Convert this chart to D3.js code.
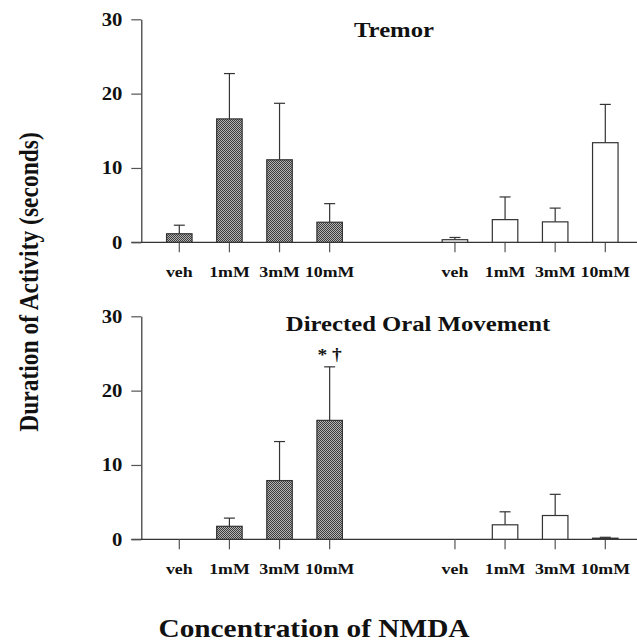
<!DOCTYPE html>
<html>
<head>
<meta charset="utf-8">
<script src="https://cdn.jsdelivr.net/npm/d3@7"></script>
<style>
  body { margin: 0; background: white; }
  svg { display: block; }
  text { font-family: "Liberation Serif", "Times New Roman", serif; font-weight: bold; fill: #111; }
</style>
</head>
<body>
<div id="wrapper"></div>
<script>
// doses, same for both groups
var categories = ["veh", "1mM", "3mM", "10mM"];
var yTicks = [0, 10, 20, 30];

// Tremor (mean, upper error)
var tremorLeft      = [1.15, 16.6, 11.1, 2.7];
var tremorLeftErr   = [1.15, 6.1, 7.6, 2.5];
var tremorRight     = [0.35, 3.05, 2.75, 13.4];
var tremorRightErr  = [0.3, 3.05, 1.85, 5.15];

// Directed Oral Movement
var oralLeft        = [0, 1.75, 7.9, 16.0];
var oralLeftErr     = [0, 1.1, 5.25, 7.2];
var oralRight       = [0, 1.95, 3.2, 0.15];
var oralRightErr    = [0, 1.75, 2.85, 0.12];

var panelTitles = ["Tremor", "Directed Oral Movement"];
var yTitle = "Duration of Activity (seconds)";
var xTitle = "Concentration of NMDA";

const width = 637, height = 642;
const S = 1.15;   // the scanned figure is a little wider than tall

const svg = d3.select("#wrapper")
    .append("svg")
    .attr("width", width)
    .attr("height", height);

// halftone fill for the dark bars
var pat = svg.append("defs").append("pattern")
    .attr("id", "stipple")
    .attr("patternUnits", "userSpaceOnUse")
    .attr("width", 2).attr("height", 2);
pat.append("rect").attr("width", 2).attr("height", 2).attr("fill", "#b4b4b4");
pat.append("rect").attr("width", 1).attr("height", 1).attr("fill", "#3c3c3c");
pat.append("rect").attr("x", 1).attr("y", 1).attr("width", 1).attr("height", 1).attr("fill", "#3c3c3c");

// widen text horizontally around its anchor point
function stretch(sel){
    sel.attr("transform", function(){
        var tx = +this.getAttribute("x") || 0, ty = +this.getAttribute("y") || 0;
        return "translate(" + tx + "," + ty + ") scale(" + S + ",1) translate(" + (-tx) + "," + (-ty) + ")";
    });
}

// slot index of each bar: left group 0..3, right group 5.5..8.5
var x = d3.scaleLinear()
    .domain([0, 8.5])
    .range([179.3, 605.3]);
var barW = 25.5;
var axisX = 141.3;

var panels = [
    {title: panelTitles[0], top: 19.3, bottom: 242.3, titleX: 394, titleY: 37,
     groups: [{v: tremorLeft, e: tremorLeftErr, fill: "url(#stipple)", start: 0},
              {v: tremorRight, e: tremorRightErr, fill: "#ffffff", start: 5.5}]},
    {title: panelTitles[1], top: 316.3, bottom: 539.3, titleX: 418, titleY: 331,
     groups: [{v: oralLeft, e: oralLeftErr, fill: "url(#stipple)", start: 0},
              {v: oralRight, e: oralRightErr, fill: "#ffffff", start: 5.5}]}
];

panels.forEach(function(p, pi){
    var y = d3.scaleLinear()
        .domain([0, 30])
        .range([p.bottom, p.top]);

    var g = svg.append("g").attr("class", "panel" + pi);

    // baseline
    g.append("line")
        .attr("x1", axisX - 10).attr("x2", width)
        .attr("y1", y(0)).attr("y2", y(0))
        .attr("stroke", "#333").attr("stroke-width", 1.2);

    // Y axis
    var ax = g.append("g")
        .attr("transform", "translate(" + axisX + ",0)")
        .call(d3.axisLeft(y).tickValues(yTicks).tickSize(10).tickSizeOuter(0).tickPadding(9));
    ax.select(".domain").attr("stroke", "#333").attr("stroke-width", 1.2);
    ax.selectAll(".tick line").attr("stroke", "#555").attr("stroke-width", 1.2);
    ax.selectAll(".tick text")
        .attr("font-size", 18)
        .attr("font-family", "Liberation Serif, serif")
        .attr("font-weight", "bold")
        .attr("fill", "#111")
        .call(stretch);

    p.groups.forEach(function(gr){
        var rows = categories.map(function(c, i){
            return {cat: c, slot: gr.start + i, v: gr.v[i], e: gr.e[i]};
        });

        // x ticks below baseline
        g.selectAll(null)
            .data(rows)
            .enter()
            .append("line")
            .attr("x1", d => x(d.slot)).attr("x2", d => x(d.slot))
            .attr("y1", y(0)).attr("y2", y(0) + 10)
            .attr("stroke", "#555").attr("stroke-width", 1.2);

        // category labels
        g.selectAll(null)
            .data(rows)
            .enter()
            .append("text")
            .attr("x", d => x(d.slot))
            .attr("y", y(0) + 35)
            .attr("text-anchor", "middle")
            .attr("font-size", 15.5)
            .text(d => d.cat)
            .call(stretch);

        // error bars (upper only)
        var eb = rows.filter(d => d.e > 0);
        g.selectAll(null)
            .data(eb)
            .enter()
            .append("line")
            .attr("x1", d => x(d.slot)).attr("x2", d => x(d.slot))
            .attr("y1", d => y(d.v)).attr("y2", d => y(d.v + d.e))
            .attr("stroke", "#333").attr("stroke-width", 1.2);
        g.selectAll(null)
            .data(eb)
            .enter()
            .append("line")
            .attr("x1", d => x(d.slot) - 5.5).attr("x2", d => x(d.slot) + 5.5)
            .attr("y1", d => y(d.v + d.e)).attr("y2", d => y(d.v + d.e))
            .attr("stroke", "#333").attr("stroke-width", 1.2);

        // bars
        g.selectAll(null)
            .data(rows.filter(d => d.v > 0))
            .enter()
            .append("rect")
            .attr("x", d => x(d.slot) - barW / 2)
            .attr("y", d => y(d.v))
            .attr("width", barW)
            .attr("height", d => y(0) - y(d.v))
            .attr("fill", gr.fill)
            .attr("stroke", "#333")
            .attr("stroke-width", 1.2);
    });

    // panel title
    g.append("text")
        .attr("x", p.titleX)
        .attr("y", p.titleY)
        .attr("text-anchor", "middle")
        .attr("font-size", 21.5)
        .text(p.title)
        .call(stretch);

    // significance marks on 10mM oral movement
    if (pi === 1) {
        g.append("text")
            .attr("x", x(3))
            .attr("y", y(oralLeft[3] + oralLeftErr[3]) - 7)
            .attr("text-anchor", "middle")
            .attr("font-size", 17)
            .attr("font-weight", "normal")
            .text("* \u2020")
            .call(stretch);
    }
});

// axis titles
svg.append("text")
    .attr("transform", "translate(38,282) rotate(-90) scale(1," + S + ")")
    .attr("text-anchor", "middle")
    .attr("font-size", 23.5)
    .text(yTitle);

svg.append("text")
    .attr("x", 314)
    .attr("y", 637)
    .attr("text-anchor", "middle")
    .attr("font-size", 25.5)
    .text(xTitle)
    .call(stretch);
</script>
</body>
</html>
